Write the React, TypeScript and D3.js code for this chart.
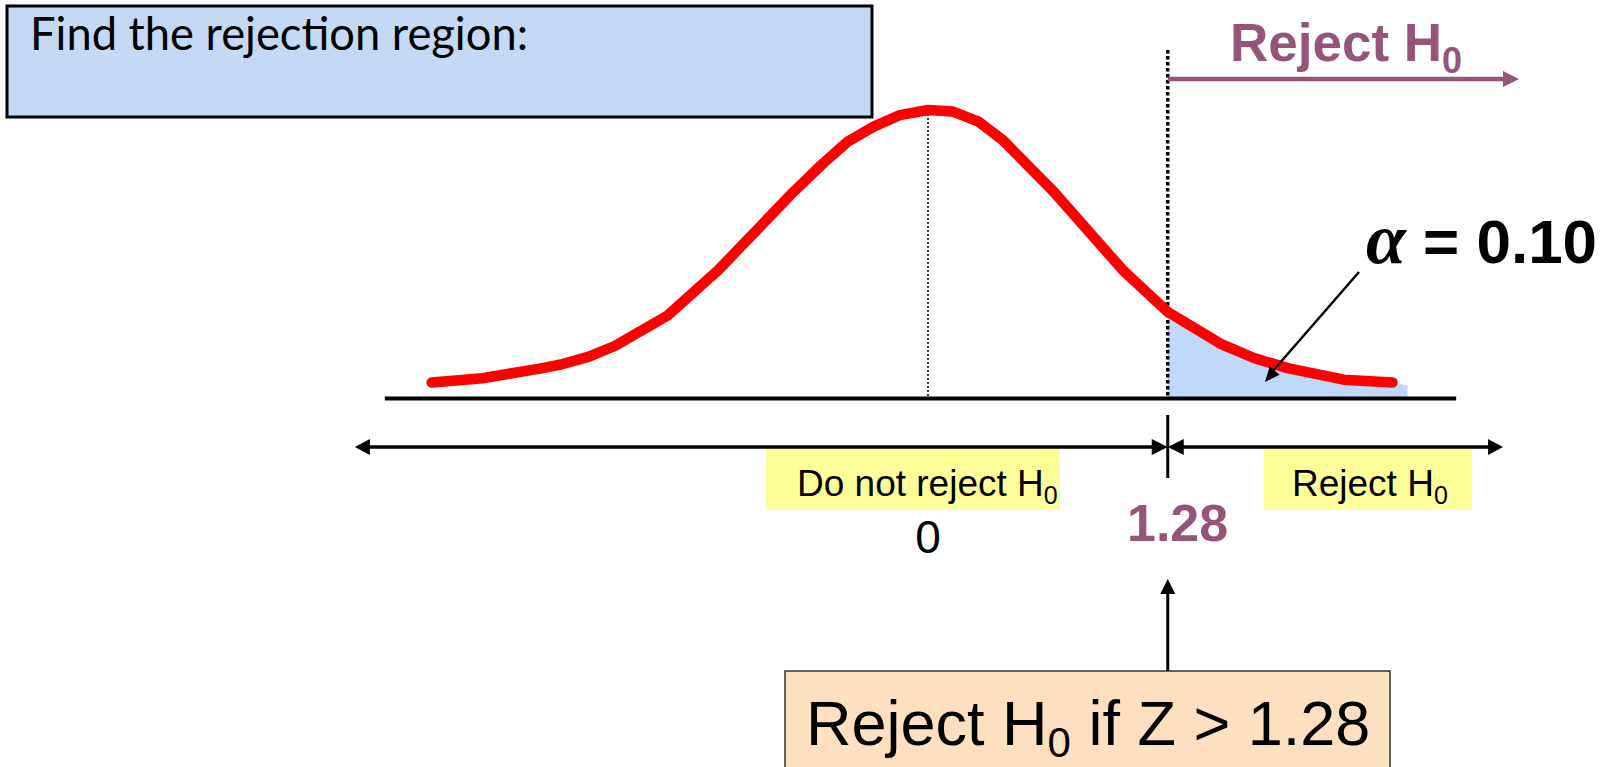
import React, { useEffect, useRef } from 'react'
import * as d3 from 'd3'

// curve: z value and height (density)
const zValues = [-2.65, -2.38, -2.08, -1.96, -1.81, -1.67, -1.39, -1.12, -0.89, -0.72, -0.56, -0.43, -0.29, -0.15, 0, 0.13, 0.27, 0.40, 0.67, 1.04, 1.28, 1.56, 1.74, 1.92, 2.22, 2.48]
const density = [0.022, 0.028, 0.041, 0.047, 0.058, 0.073, 0.115, 0.178, 0.240, 0.286, 0.326, 0.356, 0.377, 0.393, 0.400, 0.398, 0.384, 0.358, 0.287, 0.178, 0.120, 0.076, 0.056, 0.042, 0.026, 0.022]
// shaded tail runs a little past the red line
const tailZ = [2.56]
const tailDensity = [0.018]

const criticalZ = 1.28
const criticalLabel = '1.28'
const centerLabel = '0'
const alphaLabel = '= 0.10'
const titleText = 'Find the rejection region:'
const regionLabels = ['Do not reject H', 'Reject H']
const ruleText = ['Reject H', ' if Z > 1.28']

const PURPLE = '#955479'
const ARIAL = '"Liberation Sans", Arial, sans-serif'

export default function App() {
  const ref = useRef<SVGSVGElement>(null)

  useEffect(() => {
    const svg = d3.select(ref.current)
    svg.selectAll('*').remove()

    const x = d3.scaleLinear().domain([0, 1]).range([928, 1115.3])
    const y = d3.scaleLinear().domain([0, 0.4]).range([398.4, 110])

    const pts = zValues.map((z, i) => ({ z, d: density[i] }))
    const tail = pts.filter(p => p.z >= criticalZ).concat(tailZ.map((z, i) => ({ z, d: tailDensity[i] })))

    // little helper for filled arrow heads
    const head = (tx: number, ty: number, angle: number, len: number, half: number, color: string) => {
      const c = Math.cos(angle), s = Math.sin(angle)
      const bx = tx - c * len, by = ty - s * len
      const p = [[tx, ty], [bx - s * half, by + c * half], [bx + s * half, by - c * half]]
      svg.append('polygon').attr('points', p.map(q => q.join(',')).join(' ')).attr('fill', color)
    }

    // shaded rejection area
    const area = d3.area<{ z: number, d: number }>()
      .x(d => x(d.z)).y0(y(0)).y1(d => y(d.d))
    svg.append('path').attr('d', area(tail)).attr('fill', '#c0d9fa')

    // dotted line at the mean
    svg.append('line')
      .attr('x1', x(0)).attr('x2', x(0)).attr('y1', y(0.4)).attr('y2', y(0))
      .attr('stroke', '#000').attr('stroke-width', 1.5).attr('stroke-dasharray', '2,2')

    // dotted line at the critical value
    svg.append('line')
      .attr('x1', x(criticalZ)).attr('x2', x(criticalZ)).attr('y1', 50).attr('y2', y(0))
      .attr('stroke', '#000').attr('stroke-width', 3.5).attr('stroke-dasharray', '3.5,2.5')

    // baseline
    svg.append('line')
      .attr('x1', x(-2.9)).attr('x2', x(2.82)).attr('y1', y(0)).attr('y2', y(0))
      .attr('stroke', '#000').attr('stroke-width', 4)

    // the red curve
    const line = d3.line<{ z: number, d: number }>().x(d => x(d.z)).y(d => y(d.d))
    svg.append('path').attr('d', line(pts))
      .attr('fill', 'none').attr('stroke', '#ff0000').attr('stroke-width', 10.5)
      .attr('stroke-linecap', 'round').attr('stroke-linejoin', 'round')

    // title box
    svg.append('rect').attr('x', 7).attr('y', 6).attr('width', 865).attr('height', 111)
      .attr('fill', '#c6d9f4').attr('stroke', '#000').attr('stroke-width', 3)
    svg.append('text').attr('x', 30).attr('y', 50)
      .attr('font-family', 'Lato, "Open Sans", sans-serif').attr('font-size', 46)
      .attr('textLength', 498).attr('lengthAdjust', 'spacingAndGlyphs')
      .text(titleText)

    // "Reject H0" with purple arrow at the top
    const top = svg.append('text').attr('x', 1230).attr('y', 61)
      .attr('font-family', ARIAL).attr('font-weight', 'bold').attr('font-size', 53).attr('fill', PURPLE)
    top.append('tspan').text(regionLabels[1])
    top.append('tspan').attr('dy', 12).attr('font-size', 36).text('0')
    svg.append('line').attr('x1', x(criticalZ)).attr('x2', 1505).attr('y1', 79).attr('y2', 79)
      .attr('stroke', PURPLE).attr('stroke-width', 4.5)
    head(1519, 79, 0, 16, 8, PURPLE)

    // alpha label and pointer
    svg.append('text').attr('x', 1366).attr('y', 263)
      .attr('font-family', '"Liberation Serif", serif').attr('font-style', 'italic')
      .attr('font-weight', 'bold').attr('font-size', 72).text('α')
    svg.append('text').attr('x', 1423).attr('y', 263)
      .attr('font-family', ARIAL).attr('font-weight', 'bold').attr('font-size', 62).text(alphaLabel)
    svg.append('line').attr('x1', 1359).attr('y1', 272).attr('x2', 1272).attr('y2', 372)
      .attr('stroke', '#000').attr('stroke-width', 2.5)
    head(1265, 382, Math.atan2(382 - 272, 1265 - 1359), 15, 6.5, '#000')

    // yellow region labels (drawn under the arrow line)
    const boxes = [[766, 1060, 797], [1264, 1472, 1292]]
    boxes.forEach((b, i) => {
      svg.append('rect').attr('x', b[0]).attr('y', 447).attr('width', b[1] - b[0]).attr('height', 63)
        .attr('fill', '#ffff99')
      const t = svg.append('text').attr('x', b[2]).attr('y', 496)
        .attr('font-family', ARIAL).attr('font-size', 37)
      t.append('tspan').text(regionLabels[i])
      t.append('tspan').attr('dy', 8).attr('font-size', 25).text('0')
    })

    // lower double arrows split at the critical value
    const ay = 447
    const cx = x(criticalZ)
    const xl = x(-3.06), xr = x(3.07)
    svg.append('line').attr('x1', xl + 10).attr('x2', cx - 10).attr('y1', ay).attr('y2', ay)
      .attr('stroke', '#000').attr('stroke-width', 3.5)
    svg.append('line').attr('x1', cx + 10).attr('x2', xr - 10).attr('y1', ay).attr('y2', ay)
      .attr('stroke', '#000').attr('stroke-width', 3.5)
    head(xl, ay, Math.PI, 15, 8, '#000')
    head(cx, ay, 0, 16, 8, '#000')
    head(cx, ay, Math.PI, 16, 8, '#000')
    head(xr, ay, 0, 15, 8, '#000')
    svg.append('line').attr('x1', cx).attr('x2', cx).attr('y1', 415).attr('y2', 478)
      .attr('stroke', '#000').attr('stroke-width', 3)

    // tick labels
    svg.append('text').attr('x', x(0)).attr('y', 553).attr('text-anchor', 'middle')
      .attr('font-family', ARIAL).attr('font-size', 46).text(centerLabel)
    svg.append('text').attr('x', 1127).attr('y', 541)
      .attr('font-family', ARIAL).attr('font-weight', 'bold').attr('font-size', 52).attr('fill', PURPLE)
      .text(criticalLabel)

    // arrow up from the rule box
    svg.append('line').attr('x1', cx).attr('x2', cx).attr('y1', 671).attr('y2', 592)
      .attr('stroke', '#000').attr('stroke-width', 3)
    head(cx, 579, -Math.PI / 2, 15, 7.5, '#000')

    // rule box
    svg.append('rect').attr('x', 785).attr('y', 671).attr('width', 605).attr('height', 140)
      .attr('fill', '#fde0c0').attr('stroke', '#333').attr('stroke-width', 1.5)
    const rule = svg.append('text').attr('x', 806).attr('y', 745)
      .attr('font-family', ARIAL).attr('font-size', 63)
    rule.append('tspan').text(ruleText[0])
    rule.append('tspan').attr('dy', 12).attr('font-size', 42).text('0')
    rule.append('tspan').attr('dy', -12).text(ruleText[1])
  }, [])

  return (
    <div style={{ position: 'absolute', left: 0, top: 0 }}>
      <svg ref={ref} width={1606} height={767} style={{ display: 'block', background: '#fff' }} />
    </div>
  )
}
